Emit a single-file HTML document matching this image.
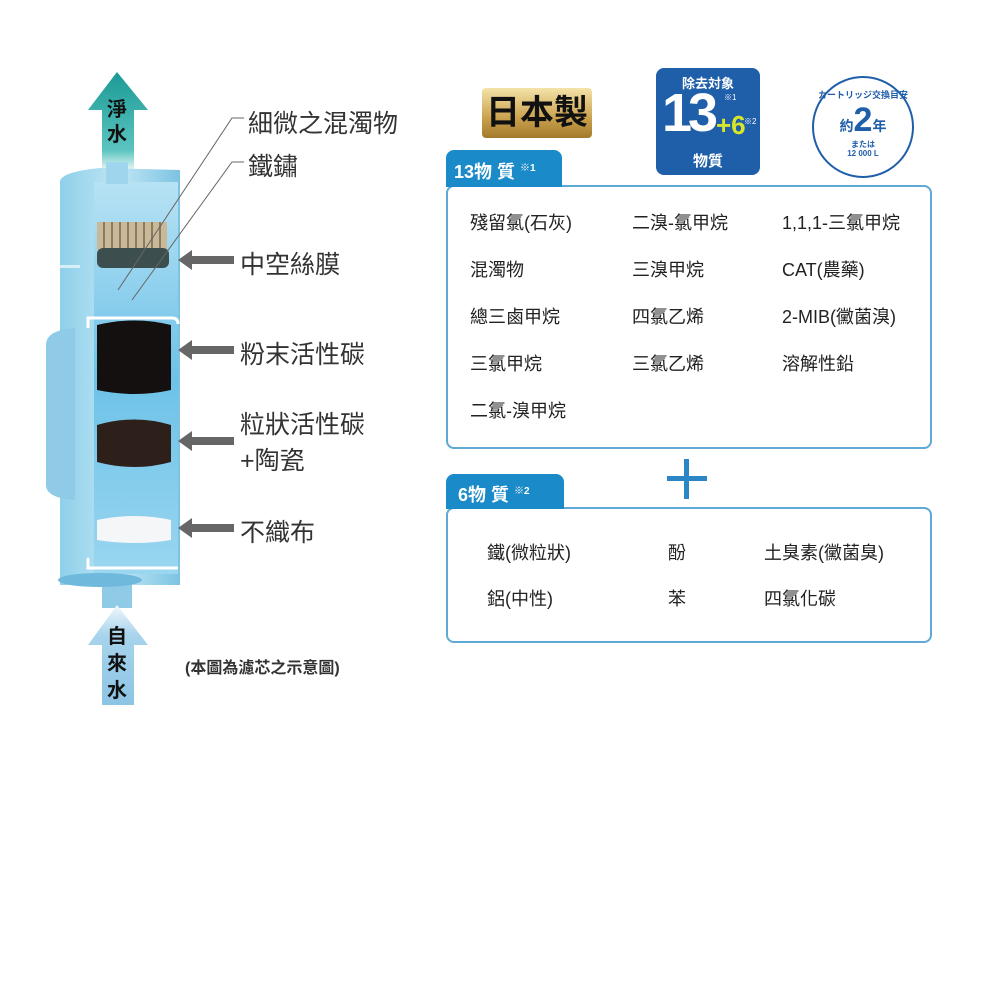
<!DOCTYPE html>
<html><head><meta charset="utf-8">
<style>
body{margin:0;background:#fff;}
#c{position:relative;width:1000px;height:1000px;overflow:hidden;font-family:"Liberation Sans","Noto Sans CJK TC",sans-serif;color:#222;}
.a{position:absolute;white-space:nowrap;}
.lbl{font-size:25px;color:#333;}
.it{font-size:18px;color:#222;}
</style></head><body><div id="c">
<svg class="a" style="left:0;top:0" width="440" height="720" viewBox="0 0 440 720">
<defs>
<linearGradient id="cy" x1="0" x2="1"><stop offset="0" stop-color="#8fd0ea"/><stop offset=".5" stop-color="#bfe6f5"/><stop offset="1" stop-color="#7cc3e2"/></linearGradient>
<linearGradient id="in" x1="0" y1="0" x2="0" y2="1"><stop offset="0" stop-color="#b8e2f4"/><stop offset=".5" stop-color="#6dc2e8"/><stop offset="1" stop-color="#9ad6f0"/></linearGradient>
<linearGradient id="up" x1="0" y1="0" x2="0" y2="1"><stop offset="0" stop-color="#1b9a95"/><stop offset=".8" stop-color="#5cc4c0"/><stop offset="1" stop-color="#e8f7f7"/></linearGradient>
<linearGradient id="dn" x1="0" y1="0" x2="0" y2="1"><stop offset="0" stop-color="#f0f8fc"/><stop offset=".3" stop-color="#a8d4ec"/><stop offset="1" stop-color="#8cc4e4"/></linearGradient>
</defs>
<!-- up arrow -->
<polygon points="117,72 148,110 134,110 134,170 102,170 102,110 88,110" fill="url(#up)"/>
<text x="117" y="116" font-size="20" font-weight="bold" text-anchor="middle" fill="#111" font-family="Noto Sans CJK TC">淨</text>
<text x="117" y="141" font-size="20" font-weight="bold" text-anchor="middle" fill="#111" font-family="Noto Sans CJK TC">水</text>
<!-- cylinder body -->
<path d="M60,182 Q60,172 100,168 L180,170 L180,585 L60,585 Z" fill="url(#cy)"/>
<path d="M46,345 Q46,330 75,328 L75,500 Q46,498 46,485 Z" fill="#8fcbe6"/>
<rect x="60" y="265" width="20" height="3" fill="#d8eff8"/>
<!-- inner cut -->
<rect x="94" y="182" width="84" height="392" fill="url(#in)"/>
<rect x="106" y="162" width="22" height="22" fill="#9fd6ee"/>
<!-- hollow fiber -->
<rect x="97" y="222" width="70" height="28" fill="#c9b999"/>
<g stroke="#8a7a5e" stroke-width="2">
<line x1="104" y1="222" x2="104" y2="250"/><line x1="112" y1="222" x2="112" y2="250"/><line x1="120" y1="222" x2="120" y2="250"/><line x1="128" y1="222" x2="128" y2="250"/><line x1="136" y1="222" x2="136" y2="250"/><line x1="144" y1="222" x2="144" y2="250"/><line x1="152" y1="222" x2="152" y2="250"/><line x1="160" y1="222" x2="160" y2="250"/></g>
<rect x="97" y="248" width="72" height="20" rx="6" fill="#3c4e4e"/>
<!-- powder carbon -->
<path d="M97,325 Q135,316 171,325 L171,390 Q135,398 97,390 Z" fill="#141010"/>
<!-- granular -->
<path d="M97,425 Q135,414 171,425 L171,462 Q135,472 97,462 Z" fill="#2d201a"/>
<!-- nonwoven -->
<path d="M97,520 Q135,512 171,520 L171,540 Q135,546 97,540 Z" fill="#f4f6f8"/>
<!-- brackets -->
<path d="M88,328 L88,318 L172,318 Q178,318 178,324" fill="none" stroke="#fff" stroke-width="3"/>
<path d="M88,558 L88,568 L178,568" fill="none" stroke="#fff" stroke-width="3"/>
<!-- bottom pipe -->
<rect x="102" y="578" width="30" height="30" fill="#8fcbe6"/>
<ellipse cx="100" cy="580" rx="42" ry="7" fill="#6fb9dc"/>
<!-- down arrow -->
<polygon points="117,605 148,645 134,645 134,705 102,705 102,645 88,645" fill="url(#dn)"/>
<text x="117" y="643" font-size="20" font-weight="bold" text-anchor="middle" fill="#111" font-family="Noto Sans CJK TC">自</text>
<text x="117" y="670" font-size="20" font-weight="bold" text-anchor="middle" fill="#111" font-family="Noto Sans CJK TC">來</text>
<text x="117" y="697" font-size="20" font-weight="bold" text-anchor="middle" fill="#111" font-family="Noto Sans CJK TC">水</text>
<!-- leader lines -->
<polyline points="244,118 232,118 118,290" fill="none" stroke="#666" stroke-width="1"/>
<polyline points="244,162 232,162 132,300" fill="none" stroke="#666" stroke-width="1"/>
<!-- gray arrows -->
<g fill="#666">
<polygon points="178,260 192,250 192,256 234,256 234,264 192,264 192,270"/>
<polygon points="178,350 192,340 192,346 234,346 234,354 192,354 192,360"/>
<polygon points="178,441 192,431 192,437 234,437 234,445 192,445 192,451"/>
<polygon points="178,528 192,518 192,524 234,524 234,532 192,532 192,538"/>
</g>
</svg>
<div class="a lbl" style="left:248px;top:104px">細微之混濁物</div>
<div class="a lbl" style="left:248px;top:147px">鐵鏽</div>
<div class="a lbl" style="left:240px;top:245px">中空絲膜</div>
<div class="a lbl" style="left:240px;top:335px">粉末活性碳</div>
<div class="a lbl" style="left:240px;top:405px">粒狀活性碳</div>
<div class="a lbl" style="left:240px;top:441px">+陶瓷</div>
<div class="a lbl" style="left:240px;top:513px">不織布</div>
<div class="a" style="left:185px;top:654px;font-size:16px;font-weight:bold;color:#333">(本圖為濾芯之示意圖)</div>

<!-- badges -->
<div class="a" style="left:482px;top:88px;width:110px;height:50px;border-radius:4px;background:linear-gradient(180deg,#f4e3a8,#caa24e 60%,#a37a2a);font-size:34px;font-weight:bold;line-height:50px;text-align:center;color:#111">日本製</div>
<div class="a" style="left:656px;top:68px;width:104px;height:107px;border-radius:8px;background:#1f5ea8;color:#fff;text-align:center">
<div style="font-size:13px;font-weight:bold;margin-top:5px">除去対象</div>
<div style="position:absolute;left:6px;top:14px;font-size:54px;font-weight:bold;letter-spacing:-4px">13</div>
<div style="position:absolute;left:68px;top:24px;font-size:8px">※1</div>
<div style="position:absolute;left:60px;top:42px;font-size:26px;font-weight:bold;color:#d7e62a">+6</div>
<div style="position:absolute;left:88px;top:48px;font-size:8px">※2</div>
<div style="position:absolute;left:0;width:104px;top:82px;font-size:15px;font-weight:bold">物質</div>
</div>
<div class="a" style="left:812px;top:76px;width:98px;height:98px;border:2px solid #1f5ea8;border-radius:50%;color:#1f5ea8;text-align:center">
<div style="font-size:9px;font-weight:bold;margin-top:10px">カートリッジ交換目安</div>
<div style="font-size:14px;font-weight:bold;margin-top:0">約<span style="font-size:34px">2</span>年</div>
<div style="font-size:8px;font-weight:bold;line-height:9px">または<br>12 000 L</div>
</div>

<!-- 13 box -->
<div class="a" style="left:446px;top:185px;width:482px;height:260px;border:2px solid #5fa9d6;border-radius:8px"></div>
<div class="a" style="left:446px;top:150px;width:116px;height:37px;background:#1a8ac8;border-radius:8px 8px 0 0;color:#fff;font-size:18px;font-weight:bold;line-height:37px;padding-left:8px;box-sizing:border-box">13物 質 <sup style="font-size:10px">※1</sup></div>
<div class="a it" style="left:470px;top:209px">殘留氯(石灰)</div>
<div class="a it" style="left:632px;top:209px">二溴-氯甲烷</div>
<div class="a it" style="left:782px;top:209px">1,1,1-三氯甲烷</div>
<div class="a it" style="left:470px;top:256px">混濁物</div>
<div class="a it" style="left:632px;top:256px">三溴甲烷</div>
<div class="a it" style="left:782px;top:256px">CAT(農藥)</div>
<div class="a it" style="left:470px;top:303px">總三鹵甲烷</div>
<div class="a it" style="left:632px;top:303px">四氯乙烯</div>
<div class="a it" style="left:782px;top:303px">2-MIB(黴菌溴)</div>
<div class="a it" style="left:470px;top:350px">三氯甲烷</div>
<div class="a it" style="left:632px;top:350px">三氯乙烯</div>
<div class="a it" style="left:782px;top:350px">溶解性鉛</div>
<div class="a it" style="left:470px;top:397px">二氯-溴甲烷</div>

<!-- plus -->
<div class="a" style="left:667px;top:476px;width:40px;height:5px;background:#2a86c4"></div>
<div class="a" style="left:684px;top:459px;width:5px;height:40px;background:#2a86c4"></div>

<!-- 6 box -->
<div class="a" style="left:446px;top:507px;width:482px;height:132px;border:2px solid #5fa9d6;border-radius:8px"></div>
<div class="a" style="left:446px;top:474px;width:118px;height:35px;background:#1a8ac8;border-radius:8px 8px 0 0;color:#fff;font-size:18px;font-weight:bold;line-height:35px;padding-left:12px;box-sizing:border-box">6物 質 <sup style="font-size:10px">※2</sup></div>
<div class="a it" style="left:487px;top:539px">鐵(微粒狀)</div>
<div class="a it" style="left:668px;top:539px">酚</div>
<div class="a it" style="left:764px;top:539px">土臭素(黴菌臭)</div>
<div class="a it" style="left:487px;top:585px">鋁(中性)</div>
<div class="a it" style="left:668px;top:585px">苯</div>
<div class="a it" style="left:764px;top:585px">四氯化碳</div>
</div></body></html>
